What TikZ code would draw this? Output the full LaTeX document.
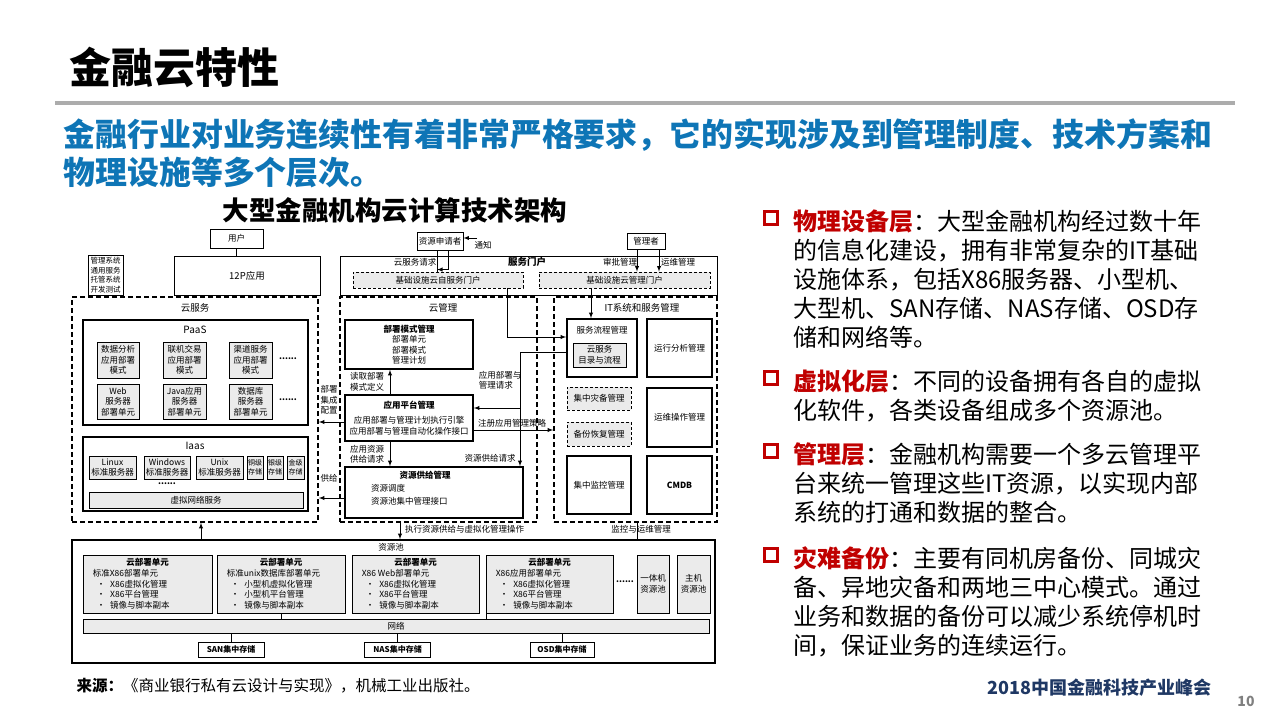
\documentclass[tikz,border=0pt]{standalone}
\usepackage{fontspec}
\setmainfont{Noto Sans CJK SC}
\usetikzlibrary{positioning}
\definecolor{leadblue}{RGB}{14,117,182}
\definecolor{keyred}{RGB}{192,0,0}
\definecolor{navy}{RGB}{31,56,100}

\begin{document}
\begin{tikzpicture}[x=1pt,y=-1pt,>=latex,
  box/.style={draw,line width=0.9pt,inner sep=0pt,align=center,font=\fontsize{8.5}{10.5}\selectfont},
  gbox/.style={box,fill=black!8},
  heavy/.style={box,line width=1.7pt},
  zone/.style={draw,line width=1.7pt,dash pattern=on 5pt off 3pt},
  dbox/.style={box,fill=black!8,dash pattern=on 3pt off 2pt},
  tag/.style={inner sep=0pt,align=left,font=\fontsize{8.5}{10.5}\selectfont},
  flow/.style={->,line width=0.9pt},
  redsq/.style={draw=keyred,line width=3.2pt,minimum size=13,inner sep=0pt},
  point/.style={anchor=north west,align=left,font=\fontsize{24}{29}\selectfont}]

\useasboundingbox (0,0) rectangle (1280,720);

% heading
\node (head) [anchor=west,font=\fontsize{42}{46}\selectfont\bfseries] at (66,67) {金融云特性};
\draw [gray!65,line width=4pt] (55,103) -- (1235,103);

% lead
\node (lead1) [anchor=west,text=leadblue,font=\fontsize{31.9}{37}\selectfont\bfseries] at (60,135) {金融行业对业务连续性有着非常严格要求，它的实现涉及到管理制度、技术方案和};
\node (lead2) [anchor=west,text=leadblue,font=\fontsize{31.9}{37}\selectfont\bfseries] at (60,172) {物理设施等多个层次。};

% caption
\node (caption) [font=\fontsize{26.5}{30}\selectfont\bfseries] at (395,210) {大型金融机构云计算技术架构};

% users and portal
\node (user) [box,minimum width=53,minimum height=19] at (236.5,238.5) {用户};
\node (app12p) [box,minimum width=146,minimum height=39,font=\fontsize{9.5}{11}\selectfont] at (247,275.5) {12P应用};
\node (sidelist) [box,minimum width=35,minimum height=40,font=\fontsize{7.5}{9.5}\selectfont] at (105.5,275) {管理系统\\通用服务\\托管系统\\开发测试};
\node (applicant) [box,minimum width=46,minimum height=18] at (440,241) {资源申请者};
\node (admin) [box,minimum width=38,minimum height=16] at (646,241) {管理者};
\node (portal) [box,minimum width=377,minimum height=39] at (528.5,275.5) {};
\node (portaltxt) [tag,font=\fontsize{9.5}{11}\selectfont\bfseries] at (527,262) {服务门户};
\node (reqtxt) [tag] at (415,262) {云服务请求};
\node (approvetxt) [tag] at (620,262) {审批管理};
\node (opstxt) [tag] at (678,262) {运维管理};
\node (selfportal) [dbox,minimum width=170,minimum height=16] at (438,280) {基础设施云自服务门户};
\node (mgmtportal) [dbox,minimum width=171,minimum height=16] at (624.5,280) {基础设施云管理门户};

\draw (user.south) -- (user.south |- app12p.north);
\draw ([xshift=-3]applicant.south) -- ([xshift=-1]selfportal.north);
\draw [flow] ([xshift=8]applicant.south) |- ([xshift=-1,yshift=2]selfportal.north);
\coordinate (notice) at (477,238);
\draw [flow] (notice) -- (notice -| applicant.east);
\node (noticetxt) [tag] at (483,245) {通知};
\draw [flow] ([xshift=-9]admin.south) -- ([xshift=-9]admin.south |- mgmtportal.north);
\draw [flow] ([xshift=13]admin.south) -- ([xshift=13]admin.south |- mgmtportal.north);

% zones
\node (cloudsvc) [zone,minimum width=246,minimum height=225] at (195,409.5) {};
\node (cloudmgmt) [zone,minimum width=197,minimum height=225] at (438.5,409.5) {};
\node (itmgmt) [zone,minimum width=163,minimum height=225] at (635.5,409.5) {};
\node (cloudsvctxt) [tag,font=\fontsize{9.5}{11}\selectfont] at (195,308) {云服务};
\node (cloudmgmttxt) [tag,font=\fontsize{9.5}{11}\selectfont] at (443,308) {云管理};
\node (itmgmttxt) [tag,font=\fontsize{9.5}{11}\selectfont] at (642,308) {IT系统和服务管理};

% PaaS
\node (paas) [heavy,minimum width=225,minimum height=105] at (195.5,372.5) {};
\node (paastxt) [tag,font=\fontsize{10}{12}\selectfont] at (195,330) {PaaS};
\node (analysis) [gbox,minimum width=42,minimum height=36] at (118,360) {数据分析\\应用部署\\模式};
\node (trading) [gbox,minimum width=43,minimum height=36] at (184.5,360) {联机交易\\应用部署\\模式};
\node (channel) [gbox,minimum width=43,minimum height=36] at (250.5,360) {渠道服务\\应用部署\\模式};
\node (dots1) [tag,font=\fontsize{8.5}{10.5}\selectfont\bfseries] at (288,359) {......};
\node (websrv) [gbox,minimum width=42,minimum height=35] at (118,401.5) {Web\\服务器\\部署单元};
\node (javasrv) [gbox,minimum width=43,minimum height=35] at (184.5,401.5) {Java应用\\服务器\\部署单元};
\node (dbsrv) [gbox,minimum width=43,minimum height=35] at (250.5,401.5) {数据库\\服务器\\部署单元};
\node (dots2) [tag,font=\fontsize{8.5}{10.5}\selectfont\bfseries] at (288,400) {......};

% IaaS
\node (iaas) [heavy,minimum width=225,minimum height=74] at (195.5,474) {};
\node (iaastxt) [tag,font=\fontsize{10}{12}\selectfont] at (195,446) {Iaas};
\node (linux) [gbox,minimum width=47,minimum height=23] at (112.5,467.5) {Linux\\标准服务器};
\node (windows) [gbox,minimum width=46,minimum height=23] at (167,467.5) {Windows\\标准服务器};
\node (unix) [gbox,minimum width=47,minimum height=23] at (219.5,467.5) {Unix\\标准服务器};
\node (copper) [gbox,minimum width=16,minimum height=23,font=\fontsize{7}{9}\selectfont] at (255,467.5) {铜级\\存储};
\node (silver) [gbox,minimum width=16,minimum height=23,font=\fontsize{7}{9}\selectfont] at (275,467.5) {银级\\存储};
\node (gold) [gbox,minimum width=17,minimum height=23,font=\fontsize{7}{9}\selectfont] at (295.5,467.5) {金级\\存储};
\node (dots3) [tag,font=\fontsize{8.5}{10.5}\selectfont\bfseries] at (167,484) {......};
\node (vnet) [gbox,minimum width=214,minimum height=16] at (196,500) {虚拟网络服务};

% cloud management
\node (deploymode) [heavy,minimum width=128,minimum height=49] at (409,344.5) {\textbf{部署模式管理}\\部署单元\\部署模式\\管理计划};
\node (appplat) [heavy,minimum width=128,minimum height=46] at (409,418) {\textbf{应用平台管理}\\[5pt]应用部署与管理计划执行引擎\\应用部署与管理自动化操作接口};
\node (resprov) [heavy,minimum width=178,minimum height=51] at (434,492.5) {};
\node (resprovtxt) [tag,font=\fontsize{8.5}{10.5}\selectfont\bfseries] at (425,475) {资源供给管理};
\node (resprovlist) [tag,anchor=west] at (371,495) {资源调度\\[3pt]资源池集中管理接口};

\draw [flow] ([xshift=-19]appplat.north) -- ([xshift=-19]deploymode.south);
\node (readtxt) [tag] at (367,382) {读取部署\\模式定义};
\draw [flow] ([xshift=-19]appplat.south) -- ([xshift=-19]appplat.south |- resprov.north);
\node (supplytxt) [tag] at (367,454) {应用资源\\供给请求};

% IT systems
\node (svcflow) [heavy,minimum width=70,minimum height=58] at (602,348) {};
\node (svcflowtxt) [tag] at (602,330) {服务流程管理};
\node (catalog) [gbox,minimum width=53,minimum height=24] at (599.5,355) {云服务\\目录与流程};
\node (runana) [heavy,minimum width=65,minimum height=58] at (679.5,348) {运行分析管理};
\node (drmgmt) [dbox,minimum width=64,minimum height=23] at (599,398.5) {集中灾备管理};
\node (backup) [dbox,minimum width=64,minimum height=24] at (599,434) {备份恢复管理};
\node (opsmgmt) [heavy,minimum width=65,minimum height=59] at (679.5,417.5) {运维操作管理};
\node (monitor) [heavy,minimum width=64,minimum height=58] at (599,485) {集中监控管理};
\node (cmdb) [heavy,minimum width=65,minimum height=58,font=\fontsize{8.5}{10.5}\selectfont\bfseries] at (679.5,485) {CMDB};

% portal and request flows
\draw [flow] ([xshift=69]selfportal.south) |- ([yshift=11]svcflow.west);
\draw [flow] ([xshift=-33.5]mgmtportal.south) -- ([xshift=-33.5]mgmtportal.south |- svcflow.north);
\draw [flow] ([yshift=-4]svcflow.west) -| ([xshift=86]resprov.north);
\coordinate (split) at (520,408);
\draw [flow] (split) -- (split -| appplat.east);
\node (apptxt) [tag] at (500,380) {应用部署与\\管理请求};
\node (restxt) [tag] at (490,458) {资源供给请求};
\draw [flow] ([yshift=-12]appplat.east) -- ([yshift=-12]appplat.east -| itmgmt.west);
\node (policytxt) [tag] at (512,423) {注册应用管理策略};
\draw [flow] ([yshift=-4]appplat.west) -- ([yshift=-4]appplat.west -| cloudsvc.east);
\node (integtxt) [tag] at (329,400) {部署\\集成\\配置};
\draw [flow] ([yshift=-5.5]resprov.west) -- ([yshift=-5.5]resprov.west -| cloudsvc.east);
\node (givetxt) [tag] at (329,478) {供给};

% resource pool
\node (pool) [heavy,minimum width=643,minimum height=123] at (393.5,601.5) {};
\node (pooltxt) [tag] at (391,547) {资源池};
\node (unit1) [gbox,minimum width=129,minimum height=58] at (147.5,584) {};
\node (unit2) [gbox,minimum width=128,minimum height=58] at (281,584) {};
\node (unit3) [gbox,minimum width=127,minimum height=58] at (415.5,584) {};
\node (unit4) [gbox,minimum width=127,minimum height=58] at (549.5,584) {};
\node (unit1t) [tag,font=\fontsize{8.5}{10.5}\selectfont\bfseries,below=3pt of unit1.north] {云部署单元};
\node (unit2t) [tag,font=\fontsize{8.5}{10.5}\selectfont\bfseries,below=3pt of unit2.north] {云部署单元};
\node (unit3t) [tag,font=\fontsize{8.5}{10.5}\selectfont\bfseries,below=3pt of unit3.north] {云部署单元};
\node (unit4t) [tag,font=\fontsize{8.5}{10.5}\selectfont\bfseries,below=3pt of unit4.north] {云部署单元};
\node (unit1l) [tag,below right=15pt and 10pt of unit1.north west] {标准X86部署单元\\\hspace*{4pt}\textbullet\hspace{5pt}X86虚拟化管理\\\hspace*{4pt}\textbullet\hspace{5pt}X86平台管理\\\hspace*{4pt}\textbullet\hspace{5pt}镜像与脚本副本};
\node (unit2l) [tag,below right=15pt and 10pt of unit2.north west] {标准unix数据库部署单元\\\hspace*{4pt}\textbullet\hspace{5pt}小型机虚拟化管理\\\hspace*{4pt}\textbullet\hspace{5pt}小型机平台管理\\\hspace*{4pt}\textbullet\hspace{5pt}镜像与脚本副本};
\node (unit3l) [tag,below right=15pt and 10pt of unit3.north west] {X86 Web部署单元\\\hspace*{4pt}\textbullet\hspace{5pt}X86虚拟化管理\\\hspace*{4pt}\textbullet\hspace{5pt}X86平台管理\\\hspace*{4pt}\textbullet\hspace{5pt}镜像与脚本副本};
\node (unit4l) [tag,below right=15pt and 10pt of unit4.north west] {X86应用部署单元\\\hspace*{4pt}\textbullet\hspace{5pt}X86虚拟化管理\\\hspace*{4pt}\textbullet\hspace{5pt}X86平台管理\\\hspace*{4pt}\textbullet\hspace{5pt}镜像与脚本副本};
\node (dots4) [tag,font=\fontsize{8.5}{10.5}\selectfont\bfseries] at (625,582) {......};
\node (allinone) [gbox,minimum width=32,minimum height=58] at (653,584) {一体机\\资源池};
\node (mainframe) [gbox,minimum width=33,minimum height=58] at (693.5,584) {主机\\资源池};
\node (network) [gbox,minimum width=626,minimum height=14] at (396,626) {网络};
\node (san) [box,minimum width=66,minimum height=15,font=\fontsize{8}{10}\selectfont\bfseries] at (231,649.5) {SAN集中存储};
\node (nas) [box,minimum width=66,minimum height=15,font=\fontsize{8}{10}\selectfont\bfseries] at (397.5,649.5) {NAS集中存储};
\node (osd) [box,minimum width=64,minimum height=15,font=\fontsize{8}{10}\selectfont\bfseries] at (562,649.5) {OSD集中存储};

\draw (unit2.south) -- (unit2.south |- network.north);
\draw ([xshift=1]unit4.south west) -- ([xshift=1]unit4.south west |- network.north);
\draw (san.north |- network.south) -- (san.north);
\draw (nas.north |- network.south) -- (nas.north);
\draw (osd.north |- network.south) -- (osd.north);

% zones to pool
\draw [flow] ([xshift=-38.5]cloudmgmt.south) -- ([xshift=-38.5]cloudmgmt.south |- pool.north);
\node (exectxt) [tag,anchor=west] at (405,529) {执行资源供给与虚拟化管理操作};
\draw [flow] ([xshift=6]cloudsvc.south |- pool.north) -- ([xshift=6]cloudsvc.south);
\draw ([xshift=1.5]itmgmt.south) -- ([xshift=1.5]itmgmt.south |- pool.north);
\node (monitortxt) [tag] at (641,529) {监控与运维管理};

% key points
\node (sq1) [redsq] at (771,218) {};
\node (physical) [point] at (790,206) {{\color{keyred}\bfseries 物理设备层}：大型金融机构经过数十年\\的信息化建设，拥有非常复杂的IT基础\\设施体系，包括X86服务器、小型机、\\大型机、SAN存储、NAS存储、OSD存\\储和网络等。};
\node (sq2) [redsq] at (771,378) {};
\node (virtual) [point] at (790,366) {{\color{keyred}\bfseries 虚拟化层}：不同的设备拥有各自的虚拟\\化软件，各类设备组成多个资源池。};
\node (sq3) [redsq] at (771,451) {};
\node (manage) [point] at (790,439) {{\color{keyred}\bfseries 管理层}：金融机构需要一个多云管理平\\台来统一管理这些IT资源，以实现内部\\系统的打通和数据的整合。};
\node (sq4) [redsq] at (771,555) {};
\node (disaster) [point] at (790,543) {{\color{keyred}\bfseries 灾难备份}：主要有同机房备份、同城灾\\备、异地灾备和两地三中心模式。通过\\业务和数据的备份可以减少系统停机时\\间，保证业务的连续运行。};

% footer
\node (source) [anchor=west,font=\fontsize{15.5}{18}\selectfont] at (73,686) {\textbf{来源：}《商业银行私有云设计与实现》，机械工业出版社。};
\node (summit) [anchor=west,text=navy,font=\fontsize{18}{22}\selectfont\bfseries] at (984,688) {2018中国金融科技产业峰会};
\node (pageno) [text=gray,font=\fontsize{14}{16}\selectfont\bfseries] at (1246,701) {10};

\end{tikzpicture}
\end{document}
